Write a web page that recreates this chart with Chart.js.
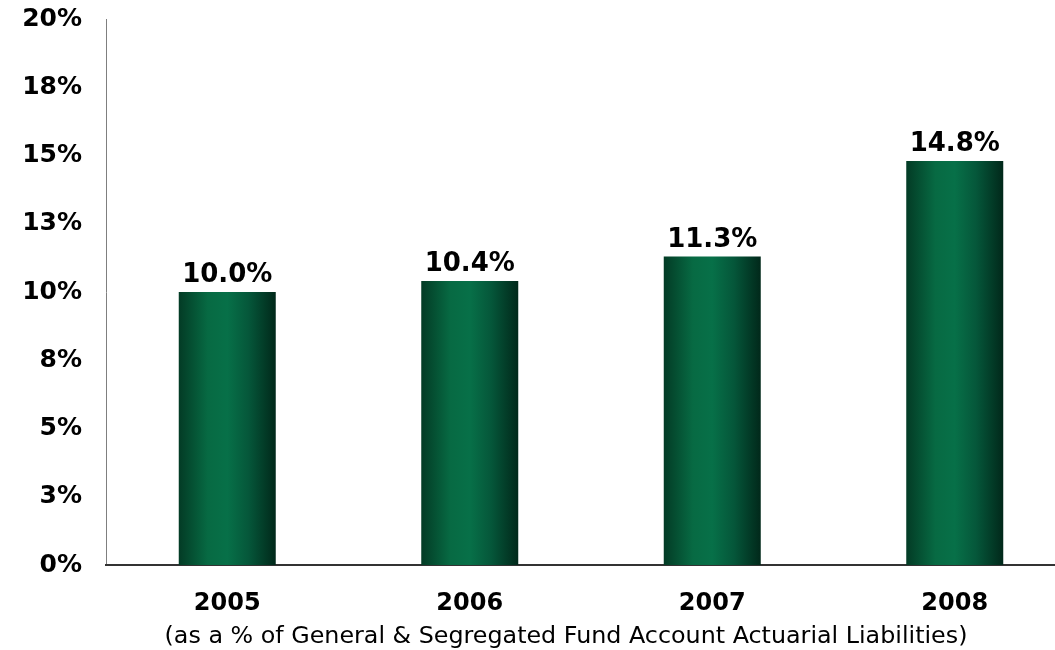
<!DOCTYPE html>
<html>
<head>
<meta charset="utf-8">
<title>Reserves ratio</title>
<script src="https://cdn.jsdelivr.net/npm/chart.js@4.4.1/dist/chart.umd.min.js"></script>
<style>
  html, body { margin: 0; padding: 0; background: #fff; overflow: hidden; }
  #wrap { width: 1080px; height: 650px; }
</style>
</head>
<body>
<div id="wrap"><canvas id="chart" width="1080" height="650"></canvas></div>
<script>
// --- data ---
const years = ['2005', '2006', '2007', '2008'];
const ratios = [10.0, 10.4, 11.3, 14.8];
const valueLabels = ['10.0%', '10.4%', '11.3%', '14.8%'];
const yTickLabels = ['0%', '3%', '5%', '8%', '10%', '13%', '15%', '18%', '20%'];
const footnote = '(as a % of General & Segregated Fund Account Actuarial Liabilities)';

const BAR_PCT = 0.4;
const FONT = '"DejaVu Sans", Verdana, sans-serif';

// horizontal shading across each bar
function barFill(context) {
  const chart = context.chart;
  if (!chart.chartArea || !chart.scales.x) return '#066640';
  const xs = chart.scales.x;
  const cx = xs.getPixelForValue(context.dataIndex);
  const half = (xs.width / years.length) * BAR_PCT / 2;
  const g = chart.ctx.createLinearGradient(cx - half, 0, cx + half, 0);
  g.addColorStop(0, '#033b25');
  g.addColorStop(0.3, '#076a43');
  g.addColorStop(0.5, '#077048');
  g.addColorStop(0.72, '#05573a');
  g.addColorStop(1, '#01281a');
  return g;
}

// value labels above bars + footnote under the axis
const annotate = {
  id: 'annotate',
  afterDatasetsDraw(chart) {
    const ctx = chart.ctx;
    const meta = chart.getDatasetMeta(0);
    ctx.save();
    ctx.fillStyle = '#000';
    ctx.font = 'bold 26px ' + FONT;
    ctx.textAlign = 'center';
    ctx.textBaseline = 'alphabetic';
    meta.data.forEach((bar, i) => {
      ctx.fillText(valueLabels[i], bar.x, bar.y - 10);
    });
    ctx.font = '23.8px ' + FONT;
    ctx.textBaseline = 'middle';
    ctx.fillText(footnote, 566, 637);
    ctx.restore();
  }
};

new Chart(document.getElementById('chart'), {
  type: 'bar',
  data: {
    labels: years,
    datasets: [{
      data: ratios,
      backgroundColor: barFill,
      borderWidth: 0,
      barPercentage: BAR_PCT,
      categoryPercentage: 1
    }]
  },
  options: {
    responsive: false,
    animation: false,
    layout: { padding: { top: 19, right: 4, left: 0, bottom: 0 } },
    plugins: { legend: { display: false }, tooltip: { enabled: false } },
    scales: {
      y: {
        min: 0,
        max: 20,
        ticks: {
          stepSize: 2.5,
          padding: 24,
          color: '#000',
          font: { family: FONT, size: 25, weight: 'bold' },
          callback: (v, i) => yTickLabels[i]
        },
        grid: { display: false, drawTicks: false },
        border: { color: '#7f7f7f', width: 1 },
        // fixed axis width; tick padding should not push the plot down
        afterFit: s => {
          s.width = 106;
          s.paddingTop = 0;
          s.paddingBottom = 0;
        }
      },
      x: {
        ticks: {
          padding: 24,
          color: '#000',
          font: { family: FONT, size: 24, weight: 'bold' }
        },
        grid: { display: false, drawTicks: false },
        border: { color: '#333', width: 2 },
        afterFit: s => { s.height = 85; }
      }
    }
  },
  plugins: [annotate]
});
</script>
</body>
</html>
